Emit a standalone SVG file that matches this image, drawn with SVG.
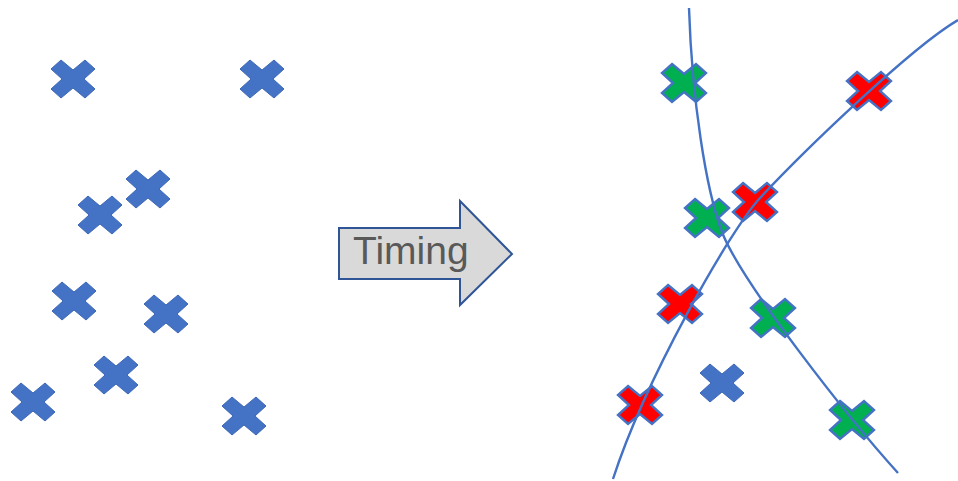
<svg xmlns="http://www.w3.org/2000/svg" width="958" height="481" viewBox="0 0 958 481">
<style>
.xb{fill:#4472c4;stroke:#3d68b8;stroke-width:1}
.xg{fill:#00b050;stroke:#4472c4;stroke-width:2.4}
.xr{fill:#ff0000;stroke:#4472c4;stroke-width:2.4}
.curve{fill:none;stroke:#4472c4;stroke-width:2.4}
.arrow{fill:#d9d9d9;stroke:#2f5597;stroke-width:2}
.lbl{font-family:"Liberation Sans",Arial,sans-serif;font-size:39px;fill:#595959}
</style>
<defs>
<polygon id="x" points="-12,-19 0,-9 12,-19 22,-10 11,0 22,10 12,19 0,9 -12,19 -22,10 -11,0 -22,-10"/>
</defs>
<g id="left-points">
<use href="#x" class="xb" x="73" y="79"/>
<use href="#x" class="xb" x="262" y="79"/>
<use href="#x" class="xb" x="148" y="189"/>
<use href="#x" class="xb" x="100" y="215"/>
<use href="#x" class="xb" x="74" y="301"/>
<use href="#x" class="xb" x="166" y="314"/>
<use href="#x" class="xb" x="116" y="375"/>
<use href="#x" class="xb" x="33" y="402"/>
<use href="#x" class="xb" x="244" y="416"/>
</g>
<g id="timing-arrow">
<polygon class="arrow" points="339,228 460,228 460,201 512,254 460,305 460,279 339,279"/>
<text class="lbl" x="353" y="264">Timing</text>
</g>
<g id="right-points">
<use href="#x" class="xb" x="722" y="383"/>
<use href="#x" class="xg" x="684" y="83"/>
<use href="#x" class="xg" x="707" y="218"/>
<use href="#x" class="xg" x="773" y="318"/>
<use href="#x" class="xg" x="852" y="420"/>
<use href="#x" class="xr" x="869" y="91"/>
<use href="#x" class="xr" x="755" y="202"/>
<use href="#x" class="xr" x="680" y="304"/>
<use href="#x" class="xr" x="640" y="405"/>
</g>
<g id="connectors">
<path class="curve" d="M689,8 C692,100 706,190 722,232 C741,282 850,420 898,473"/>
<path class="curve" d="M958,20 C910,48 800,155 760,198 C730,230 645,380 613,479"/>
</g>
</svg>
